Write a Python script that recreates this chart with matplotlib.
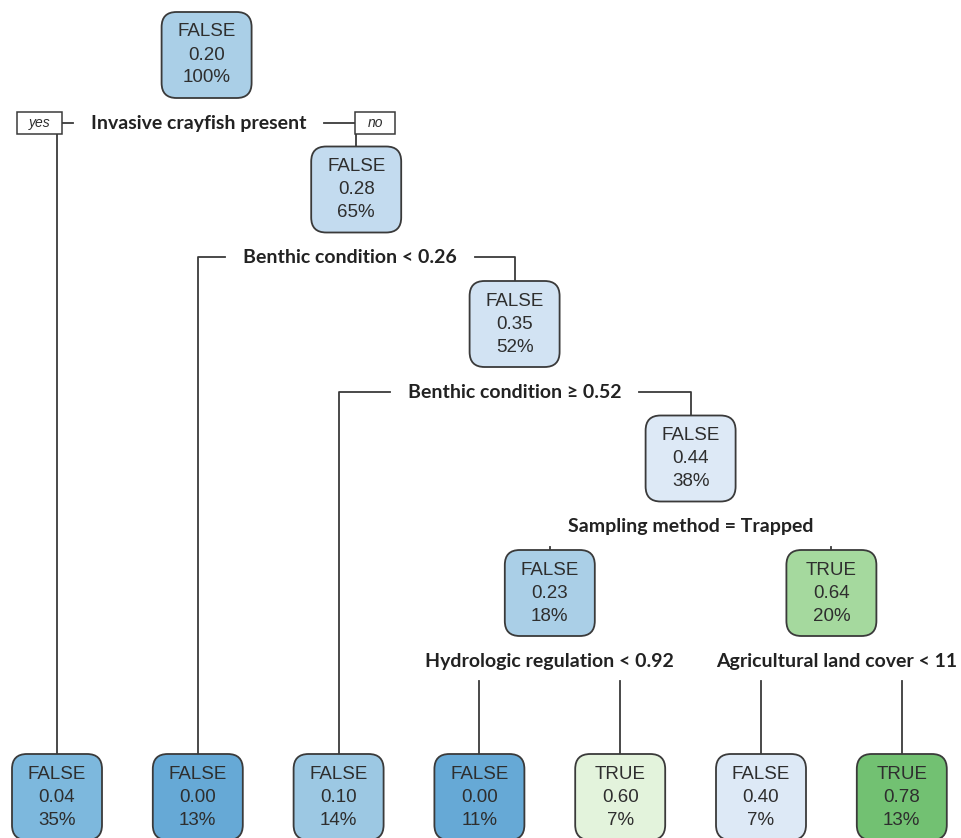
import matplotlib
matplotlib.use("Agg")
import matplotlib.pyplot as plt
from matplotlib.patches import FancyBboxPatch, Rectangle

# Tree nodes (rpart numbering: children of n are 2n and 2n+1)
node_ids = [1, 2, 3, 6, 7, 14, 15, 30, 31, 60, 61, 62, 63]
node_class = ['FALSE', 'FALSE', 'FALSE', 'FALSE', 'FALSE', 'FALSE', 'FALSE',
              'FALSE', 'TRUE', 'FALSE', 'TRUE', 'FALSE', 'TRUE']
node_prob = [0.20, 0.04, 0.28, 0.00, 0.35, 0.10, 0.44, 0.23, 0.64, 0.00, 0.60, 0.40, 0.78]
node_pct = [100, 35, 65, 13, 52, 14, 38, 18, 20, 11, 7, 7, 13]

split_ids = [1, 3, 7, 15, 30, 31]
split_text = ['Invasive crayfish present',
              'Benthic condition < 0.26',
              'Benthic condition \u2265 0.52',
              'Sampling method = Trapped',
              'Hydrologic regulation < 0.92',
              'Agricultural land cover < 11']

# fill colours (blue = FALSE, green = TRUE)
fill = {1: '#aacfe7', 2: '#7db8dd', 3: '#c3dbef', 6: '#66a9d6', 7: '#d2e3f3',
        14: '#9cc8e3', 15: '#dde9f6', 30: '#aacfe7', 31: '#a5d99e',
        60: '#66a9d6', 61: '#e3f3dc', 62: '#dde9f6', 63: '#72c172'}

EDGE = '#3a3a3a'
TXT = '#2e2e2e'
BOX_W, BOX_H = 90, 86
LEAF_Y = 797
TOP_Y, LEVEL = 55, 134.5
LEAF_X0, LEAF_DX = 57, 140.8
LABEL_DY = 68
GAP = 18
label_shift = {1: -8, 3: -6, 31: 5}

ids = set(node_ids)
split = dict(zip(split_ids, split_text))

def is_leaf(n):
    return 2 * n not in ids

# layout: leaves evenly spaced, parents at mid of children
pos = {}
leaf_count = [0]

def layout(n, depth):
    if is_leaf(n):
        x = LEAF_X0 + leaf_count[0] * LEAF_DX
        leaf_count[0] += 1
        pos[n] = (x, LEAF_Y)
        return x
    xl = layout(2 * n, depth + 1)
    xr = layout(2 * n + 1, depth + 1)
    x = (xl + xr) / 2
    pos[n] = (x, TOP_Y + depth * LEVEL)
    return x

layout(1, 0)

fig = plt.figure(figsize=(9.62, 8.38), dpi=100)
ax = fig.add_axes([0, 0, 1, 1])
ax.set_xlim(0, 962)
ax.set_ylim(838, 0)
ax.axis('off')

# node boxes
for n, cls, p, pct in zip(node_ids, node_class, node_prob, node_pct):
    x, y = pos[n]
    ax.add_patch(FancyBboxPatch((x - BOX_W / 2, y - BOX_H / 2), BOX_W, BOX_H,
                                boxstyle='round,pad=0,rounding_size=15',
                                fc=fill[n], ec=EDGE, lw=1.3, zorder=3))
    for dy, s in zip([-23, 0, 23], [cls, f'{p:.2f}', f'{pct}%']):
        ax.text(x, y + dy, s, ha='center', va='center', fontsize=13.5,
                family='Liberation Sans', color=TXT, zorder=4)

# split labels and branches
fig.canvas.draw()
renderer = fig.canvas.get_renderer()
inv = ax.transData.inverted()

for n in split_ids:
    x, y = pos[n]
    ly = y + LABEL_DY
    lx = x + label_shift.get(n, 0)
    t = ax.text(lx, ly, split[n], ha='center', va='center', fontsize=14,
                family=['Lato', 'DejaVu Sans'], fontweight='bold', color='#222222')
    bb = t.get_window_extent(renderer)
    (x0, _), (x1, _) = inv.transform([(bb.x0, 0), (bb.x1, 0)])
    for side, c in enumerate([2 * n, 2 * n + 1]):
        cx, cy = pos[c]
        top = cy - BOX_H / 2
        if x0 - 20 < cx < x1 + 20:
            ax.plot([cx, cx], [ly + 20, top], color=EDGE, lw=1.3, zorder=2)
            continue
        edge = x0 - GAP if side == 0 else x1 + GAP
        if n == 1:
            # yes / no tags at the first split
            tag = 'yes' if side == 0 else 'no'
            bx0, bw = (cx - 40, 45) if side == 0 else (cx - 1, 40)
            ax.add_patch(Rectangle((bx0, ly - 11), bw, 22, fc='white', ec=EDGE,
                                   lw=1.1, zorder=3))
            ax.text(bx0 + bw / 2, ly, tag, ha='center', va='center', fontsize=10,
                    style='italic', family='Liberation Sans', color=TXT, zorder=4)
            end = bx0 + bw if side == 0 else bx0
            ax.plot([edge, end], [ly, ly], color=EDGE, lw=1.3, zorder=2)
            ax.plot([cx, cx], [ly + 11, top], color=EDGE, lw=1.3, zorder=2)
            continue
        ax.plot([edge, cx, cx], [ly, ly, top], color=EDGE, lw=1.3, zorder=2)

fig.savefig('out.png', dpi=100)
